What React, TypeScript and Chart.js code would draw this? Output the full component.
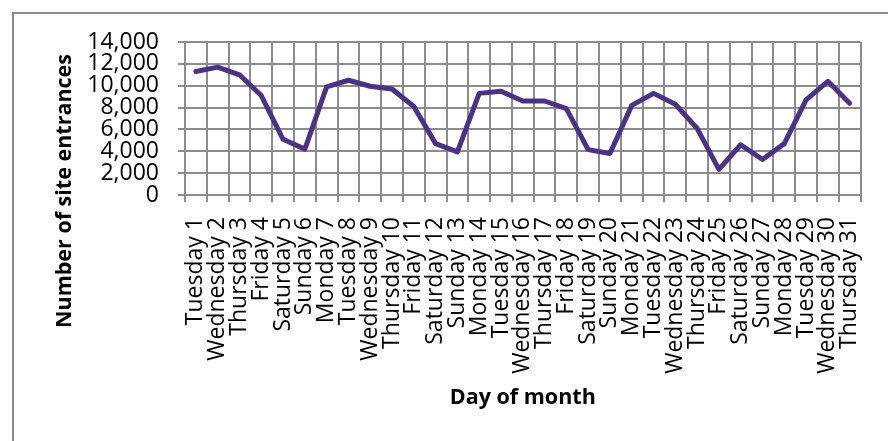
import { useEffect, useRef } from "react";
import { Chart, registerables } from "chart.js";

Chart.register(...registerables);

const days = [
  "Tuesday 1", "Wednesday 2", "Thursday 3", "Friday 4", "Saturday 5", "Sunday 6",
  "Monday 7", "Tuesday 8", "Wednesday 9", "Thursday 10", "Friday 11", "Saturday 12",
  "Sunday 13", "Monday 14", "Tuesday 15", "Wednesday 16", "Thursday 17", "Friday 18",
  "Saturday 19", "Sunday 20", "Monday 21", "Tuesday 22", "Wednesday 23", "Thursday 24",
  "Friday 25", "Saturday 26", "Sunday 27", "Monday 28", "Tuesday 29", "Wednesday 30",
  "Thursday 31",
];

const entrances = [
  11300, 11700, 11000, 9100, 5100, 4200,
  9900, 10500, 9950, 9700, 8100, 4700,
  3950, 9300, 9500, 8600, 8600, 7900,
  4150, 3800, 8200, 9300, 8300, 6100,
  2350, 4600, 3250, 4700, 8700, 10400,
  8400,
];

const yMin = 0;
const yMax = 14000;
const yStep = 2000;

const yTitle = "Number of site entrances";
const xTitle = "Day of month";

const FONT = "'Open Sans', sans-serif";
const GRID = "#8c8c8c";

const axisTitlePlugin = {
  id: "axisTitles",
  afterDraw(chart: any) {
    const ctx = chart.ctx as CanvasRenderingContext2D;
    const area = chart.chartArea;
    ctx.save();
    ctx.fillStyle = "#000";
    ctx.font = `bold 21.5px ${FONT}`;
    ctx.textAlign = "center";
    ctx.textBaseline = "middle";
    ctx.save();
    ctx.translate(65, 191);
    ctx.rotate(-Math.PI / 2);
    ctx.fillText(yTitle, 0, 0);
    ctx.restore();
    ctx.fillText(xTitle, (area.left + area.right) / 2, 398);
    ctx.restore();
  },
};

export default function App() {
  const ref = useRef<HTMLCanvasElement | null>(null);

  useEffect(() => {
    if (!ref.current) return;
    const chart = new Chart(ref.current, {
      type: "line",
      data: {
        labels: days,
        datasets: [
          {
            data: entrances,
            borderColor: "#4B3289",
            borderWidth: 5,
            pointRadius: 0,
            pointHoverRadius: 0,
            tension: 0,
            fill: false,
            borderJoinStyle: "round",
            borderCapStyle: "round",
          },
        ],
      },
      options: {
        animation: false,
        responsive: false,
        maintainAspectRatio: false,
        events: [],
        layout: { padding: { left: 0, top: 42, right: 21, bottom: 0 } },
        plugins: {
          legend: { display: false },
          tooltip: { enabled: false },
          title: { display: false },
        },
        scales: {
          x: {
            type: "category",
            offset: true,
            grid: {
              offset: true,
              color: GRID,
              lineWidth: 2,
              tickLength: 7,
              drawTicks: true,
            },
            border: { display: true, color: GRID, width: 2 },
            ticks: {
              autoSkip: false,
              maxRotation: 90,
              minRotation: 90,
              padding: 15,
              color: "#000",
              font: { family: FONT, size: 23, lineHeight: 1 },
            },
            afterFit(scale: any) {
              scale.height = 246;
            },
          },
          y: {
            min: yMin,
            max: yMax,
            grid: {
              color: GRID,
              lineWidth: 2,
              tickLength: 7,
              drawTicks: true,
            },
            border: { display: true, color: GRID, width: 2 },
            ticks: {
              stepSize: yStep,
              autoSkip: false,
              padding: 19,
              color: "#000",
              font: { family: FONT, size: 23, lineHeight: 1 },
              callback: (v: any) => Number(v).toLocaleString("en-US"),
            },
            afterFit(scale: any) {
              scale.width = 185;
            },
          },
        },
      },
      plugins: [axisTitlePlugin],
    });
    return () => chart.destroy();
  }, []);

  return (
    <div
      style={{
        position: "fixed",
        left: 0,
        top: 0,
        width: 888,
        height: 441,
        overflow: "hidden",
        background: "#fff",
      }}
    >
      <div
        style={{
          position: "absolute",
          left: 12,
          top: 12,
          width: 900,
          height: 460,
          borderLeft: "2px solid #8c8c8c",
          borderTop: "2px solid #8c8c8c",
        }}
      />
      <canvas
        ref={ref}
        width={888}
        height={441}
        style={{ position: "absolute", left: 0, top: 0, display: "block" }}
      />
    </div>
  );
}
